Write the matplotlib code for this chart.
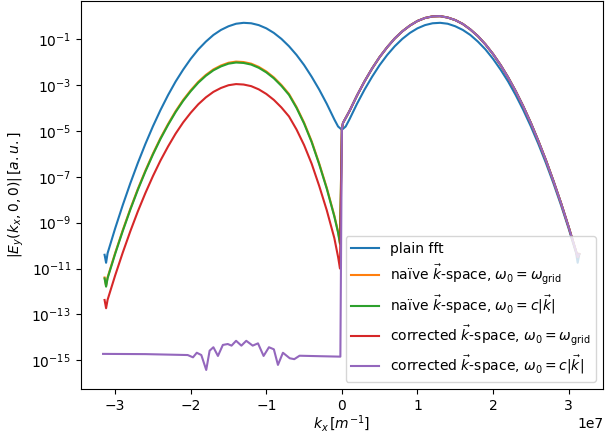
import numpy as np
import matplotlib
matplotlib.use("Agg")
import matplotlib.pyplot as plt
from matplotlib.ticker import NullLocator

# k_x sample positions in units of 1e7 m^-1; curve values are log10(|E_y|)
k_blue = [-3.14, -3.12, -3.1, -3.0, -2.9, -2.8, -2.7, -2.6, -2.5, -2.4, -2.3, -2.2,
          -2.1, -2.0, -1.9, -1.8, -1.7, -1.6, -1.5, -1.4, -1.3, -1.2, -1.1, -1.0,
          -0.9, -0.8, -0.7, -0.6, -0.5, -0.4, -0.3, -0.2, -0.1, -0.05, 0.0,
          0.05, 0.1, 0.2, 0.3, 0.4, 0.5, 0.6, 0.7, 0.8, 0.9, 1.0, 1.1, 1.2, 1.3,
          1.4, 1.5, 1.6, 1.7, 1.8, 1.9, 2.0, 2.1, 2.2, 2.3, 2.4, 2.5, 2.6, 2.7,
          2.8, 2.9, 3.0, 3.1, 3.12, 3.14]
plain_fft = [-10.40, -10.75, -10.33, -9.25, -8.24, -7.29, -6.40, -5.57, -4.80, -4.09,
             -3.44, -2.85, -2.33, -1.86, -1.45, -1.11, -0.82, -0.60, -0.44, -0.33,
             -0.29, -0.31, -0.39, -0.53, -0.73, -0.99, -1.31, -1.69, -2.13, -2.64,
             -3.20, -3.82, -4.50, -4.81, -4.95,
             -4.81, -4.50, -3.82, -3.20, -2.64, -2.13, -1.69, -1.31, -0.99, -0.73,
             -0.53, -0.39, -0.31, -0.29, -0.33, -0.44, -0.60, -0.82, -1.11, -1.45,
             -1.86, -2.33, -2.85, -3.44, -4.09, -4.80, -5.57, -6.40, -7.29, -8.24,
             -9.25, -10.33, -10.75, -10.40]

k_left = [-3.14, -3.12, -3.1, -3.0, -2.9, -2.8, -2.7, -2.6, -2.5, -2.4, -2.3, -2.2,
          -2.1, -2.0, -1.9, -1.8, -1.7, -1.6, -1.5, -1.4, -1.3, -1.2, -1.1, -1.0,
          -0.9, -0.8, -0.7, -0.6, -0.5, -0.4, -0.3, -0.2, -0.1, -0.05, -0.025]
naive_grid_left = [-11.39, -11.75, -11.38, -10.32, -9.33, -8.40, -7.53, -6.73, -5.99,
                   -5.31, -4.70, -4.14, -3.65, -3.23, -2.86, -2.56, -2.32, -2.15, -2.03,
                   -1.98, -2.00, -2.07, -2.21, -2.41, -2.67, -3.00, -3.39, -3.96, -4.64,
                   -5.45, -6.42, -7.48, -8.69, -9.40, -9.88]
naive_c_left = [-11.43, -11.79, -11.42, -10.36, -9.37, -8.44, -7.57, -6.77, -6.03,
                -5.35, -4.74, -4.18, -3.69, -3.27, -2.90, -2.60, -2.36, -2.19, -2.07,
                -2.02, -2.04, -2.11, -2.25, -2.45, -2.71, -3.04, -3.43, -4.00, -4.68,
                -5.49, -6.46, -7.52, -8.73, -9.44, -9.92]
corr_grid_left = [-12.37, -12.73, -12.36, -11.30, -10.31, -9.38, -8.51, -7.71, -6.97,
                  -6.29, -5.68, -5.12, -4.63, -4.21, -3.84, -3.54, -3.30, -3.13, -3.01,
                  -2.96, -2.98, -3.05, -3.19, -3.39, -3.65, -3.98, -4.37, -4.94, -5.62,
                  -6.43, -7.40, -8.46, -9.67, -10.50, -11.00]

k_corr_c_left = [-3.16, -2.6, -2.04, -1.97, -1.92, -1.86, -1.795, -1.75, -1.70, -1.64,
                 -1.575, -1.51, -1.46, -1.40, -1.33, -1.265, -1.18, -1.11, -1.036,
                 -0.965, -0.90, -0.846, -0.78, -0.69, -0.63, -0.56, -0.3, -0.02]
corr_c_left = [-14.72, -14.73, -14.77, -14.87, -14.67, -14.77, -15.42, -14.58, -14.43,
               -14.81, -14.33, -14.29, -14.36, -14.15, -14.36, -14.15, -14.36, -14.26,
               -14.81, -14.43, -14.52, -15.20, -14.67, -14.91, -14.95, -14.80, -14.82,
               -14.84]

k_right = [0.0, 0.015, 0.1, 0.2, 0.3, 0.4, 0.5, 0.6, 0.7, 0.8, 0.9, 1.0, 1.1, 1.2,
           1.3, 1.4, 1.5, 1.6, 1.7, 1.8, 1.9, 2.0, 2.1, 2.2, 2.3, 2.4, 2.5, 2.6, 2.7,
           2.8, 2.9, 3.0, 3.1, 3.12, 3.14]
kspace_right = [-4.90, -4.65, -4.14, -3.46, -2.84, -2.28, -1.78, -1.35, -0.97, -0.66,
                -0.41, -0.21, -0.08, -0.01, 0.00, -0.06, -0.17, -0.34, -0.58, -0.87,
                -1.23, -1.65, -2.13, -2.67, -3.27, -3.93, -4.65, -5.44, -6.28, -7.19,
                -8.15, -9.18, -10.27, -10.50, -10.37]

ytick_exponents = [-15, -13, -11, -9, -7, -5, -3, -1]

labels = [
    "plain fft",
    r"naïve $\vec{k}$-space, $\omega_0=\omega_\mathrm{grid}$",
    r"naïve $\vec{k}$-space, $\omega_0=c|\vec{k}|$",
    r"corrected $\vec{k}$-space, $\omega_0=\omega_\mathrm{grid}$",
    r"corrected $\vec{k}$-space, $\omega_0=c|\vec{k}|$",
]
colors = ["#1f77b4", "#ff7f0e", "#2ca02c", "#d62728", "#9467bd"]

scale = 1e7
kl = list(k_left)
kr = list(k_right)
series = [
    (k_blue, plain_fft),
    (kl + kr, naive_grid_left + kspace_right),
    (kl + kr, naive_c_left + kspace_right),
    (kl + kr, corr_grid_left + kspace_right),
    (k_corr_c_left + kr, corr_c_left + kspace_right),
]

fig = plt.figure(figsize=(6.16, 4.34), dpi=100)
ax = fig.add_axes([0.131, 0.1037, 0.848, 0.895])
for (x, y), lab, c in zip(series, labels, colors):
    ax.plot(np.array(x) * scale, 10.0 ** np.array(y), color=c, lw=1.5, label=lab)

ax.set_yscale("log")
ax.set_xlim(-3.456e7, 3.456e7)
ax.set_ylim(10 ** -16.25, 10 ** 0.68)
ax.set_yticks([10.0 ** e for e in ytick_exponents])
ax.yaxis.set_minor_locator(NullLocator())
ax.set_xlabel(r"$k_x\,[m^{-1}]$", labelpad=0.5)
ax.set_ylabel(r"$|E_y(k_x,0,0)|\,[a.u.]$")
ax.legend(loc="lower right")
fig.savefig("out.png", dpi=100)
